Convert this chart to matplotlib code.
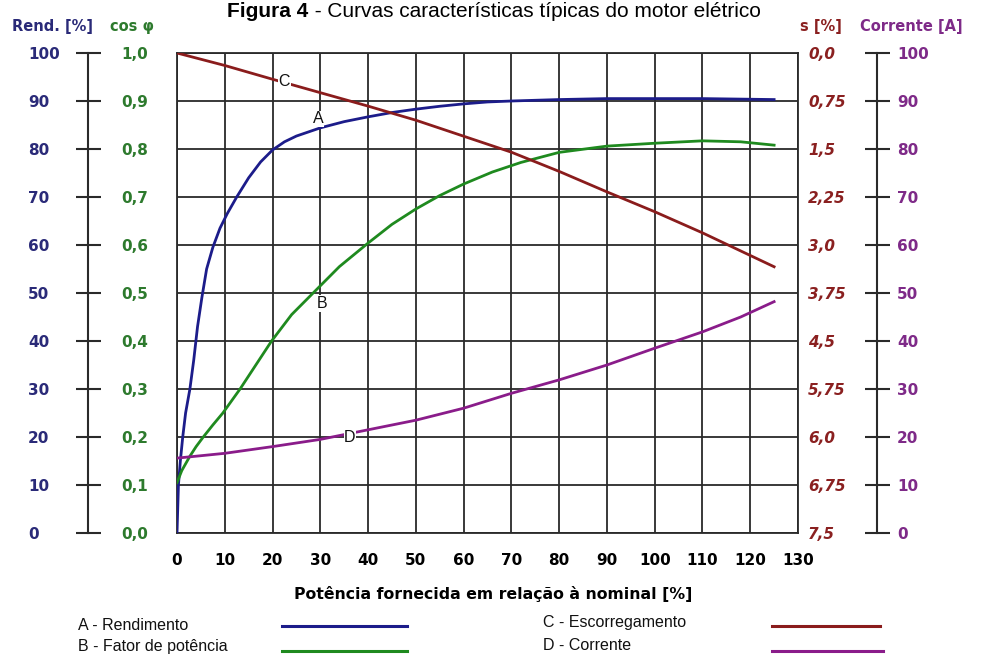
import matplotlib
matplotlib.use("Agg")
import matplotlib.pyplot as plt
from matplotlib.lines import Line2D

W, H = 987, 655

# power delivered relative to nominal (%)
x_ticks = list(range(0, 131, 10))

# A - efficiency (%)
rend_x = [0, 0.3, 0.7, 1.2, 1.8, 2.7, 3.5, 4.3, 5.2, 6.2, 7.5, 9, 10.5, 12.5, 15, 17.5, 20,
          22.5, 25, 30, 35, 40, 45, 50, 55, 60, 65, 70, 80, 90, 100, 110, 125]
rend_y = [0, 10, 15, 20, 25, 30, 36, 43, 49, 55, 59.5, 63.5, 66.5, 70, 74, 77.3, 79.8,
          81.5, 82.7, 84.4, 85.7, 86.7, 87.6, 88.3, 88.9, 89.4, 89.8, 90, 90.3, 90.5, 90.5, 90.5, 90.3]

# B - power factor (cos phi)
cos_x = [0, 1, 2.7, 4, 5.5, 7.5, 9.6, 13.2, 16.5, 19.8, 24, 28.5, 34, 40, 45, 50, 55, 60,
         66, 72, 80, 90, 100, 110, 118, 125]
cos_y = [0.105, 0.13, 0.16, 0.18, 0.20, 0.225, 0.25, 0.30, 0.35, 0.40, 0.455, 0.50, 0.555,
         0.604, 0.643, 0.675, 0.703, 0.727, 0.752, 0.772, 0.793, 0.806, 0.812, 0.817, 0.815, 0.808]

# C - slip (%)
slip_x = [0, 10, 20, 30, 40, 50, 60, 70, 80, 90, 100, 110, 125]
slip_y = [0, 0.195, 0.41, 0.62, 0.83, 1.05, 1.3, 1.55, 1.85, 2.17, 2.48, 2.81, 3.34]

# D - current (A)
cur_x = [0, 10, 20, 30, 40, 50, 60, 70, 80, 90, 100, 110, 118, 125]
cur_y = [15.6, 16.6, 18, 19.5, 21.5, 23.5, 26, 29.1, 31.9, 35, 38.5, 41.9, 45, 48.2]

rend_ticks = list(range(0, 101, 10))
cos_ticks = [i / 10 for i in range(11)]
cos_labels = ["0,0", "0,1", "0,2", "0,3", "0,4", "0,5", "0,6", "0,7", "0,8", "0,9", "1,0"]
slip_ticks = [i * 0.75 for i in range(11)]
slip_labels = ["0,0", "0,75", "1,5", "2,25", "3,0", "3,75", "4,5", "5,75", "6,0", "6,75", "7,5"]
cur_ticks = list(range(0, 101, 10))

BLUE = "#1c1c8a"
GREEN = "#1f8a1f"
RED = "#8a1c1c"
PURPLE = "#8a1c8a"
NAVY_TXT = "#2a2a78"
GREEN_TXT = "#2d7a2d"
RED_TXT = "#8a2020"
PURPLE_TXT = "#7e2a88"

TICK_FONT = {"family": "DejaVu Sans", "weight": "bold", "size": 11}
PT = 72 / 100  # points per pixel at dpi 100


def fx(px):
    return px / W


def fy(py):
    return 1 - py / H


fig = plt.figure(figsize=(W / 100, H / 100), dpi=100)
left, right, top, bottom = 177, 798, 53, 533
ax = fig.add_axes([fx(left), fy(bottom), fx(right - left), (bottom - top) / H])
ax.set_xlim(0, 130)
ax.set_ylim(0, 100)
ax.set_xticks(x_ticks)
ax.set_xticklabels([str(v) for v in x_ticks], fontdict=TICK_FONT)
ax.set_yticks(rend_ticks)
ax.set_yticklabels([])
ax.tick_params(axis="both", length=0)
ax.tick_params(axis="x", pad=20 * PT)
ax.grid(True, color="#2a2a2a", linewidth=1.3)
ax.set_axisbelow(True)
for s in ax.spines.values():
    s.set_color("#2a2a2a")
    s.set_linewidth(1.3)


def scale_axis(side, offset_px, ylim, ticks, labels, color, tick_len_px, pad_px,
               ha, spine=True):
    a = ax.twinx()
    a.set_ylim(*ylim)
    for s in a.spines.values():
        s.set_visible(False)
    sp = a.spines[side]
    sp.set_visible(spine)
    sp.set_position(("outward", offset_px * PT))
    sp.set_color("#2a2a2a")
    sp.set_linewidth(1.5)
    if side == "left":
        a.yaxis.tick_left()
    else:
        a.yaxis.tick_right()
    a.set_yticks(ticks)
    a.set_yticklabels(labels, fontdict=TICK_FONT)
    a.tick_params(axis="y", direction="inout", length=tick_len_px * PT, width=1.5,
                  color="#2a2a2a", labelcolor=color, pad=pad_px * PT)
    for t in a.get_yticklabels():
        t.set_ha(ha)
    return a


scale_axis("left", left - 88, (0, 100), rend_ticks, [str(v) for v in rend_ticks],
           NAVY_TXT, 25, 47.5, "left")
ax_cos = scale_axis("left", left - 121, (0, 1), cos_ticks, cos_labels,
                    GREEN_TXT, 0, 0, "left", spine=False)
ax_slip = scale_axis("right", 808 - right, (7.5, 0), slip_ticks, slip_labels,
                     RED_TXT, 0, 0, "left", spine=False)
ax_cur = scale_axis("right", 877 - right, (0, 100), cur_ticks, [str(v) for v in cur_ticks],
                    PURPLE_TXT, 25, 7.5, "left")
for t in ax_slip.get_yticklabels():
    t.set_style("italic")

lw = 2.0
ax.plot(rend_x, rend_y, color=BLUE, lw=lw, zorder=3)
ax_cos.plot(cos_x, cos_y, color=GREEN, lw=lw, zorder=3)
ax_slip.plot(slip_x, slip_y, color=RED, lw=lw, zorder=3)
ax_cur.plot(cur_x, cur_y, color=PURPLE, lw=lw, zorder=3)

box = dict(facecolor="white", edgecolor="none", pad=0.5)
lab_font = dict(family="Liberation Sans", size=11.5, color="#111111",
                ha="center", va="center", bbox=box, zorder=5)
ax_cur.text(29.5, 86.3, "A", **lab_font)
ax_cur.text(30.3, 47.8, "B", **lab_font)
ax_cur.text(22.5, 94.1, "C", **lab_font)
ax_cur.text(36.2, 20.0, "D", **lab_font)

# axis headers
hdr = dict(family="DejaVu Sans", weight="bold", size=10.5, va="center", ha="left")
fig.text(fx(12), fy(26), "Rend. [%]", color=NAVY_TXT, **hdr)
fig.text(fx(110), fy(26), "cos φ", color=GREEN_TXT, **hdr)
fig.text(fx(800), fy(26), "s [%]", color=RED_TXT, **hdr)
fig.text(fx(860), fy(26), "Corrente [A]", color=PURPLE_TXT, **hdr)

fig.text(fx(493), fy(594), "Potência fornecida em relação à nominal [%]",
         family="DejaVu Sans", weight="bold", size=11.3, ha="center", va="center")

# title
t1 = fig.text(0, fy(17), "Figura 4", family="Liberation Sans", weight="bold",
              size=15, ha="left", va="baseline")
t2 = fig.text(0, fy(17), " - Curvas características típicas do motor elétrico",
              family="Liberation Sans", size=15, ha="left", va="baseline")
r = fig.canvas.get_renderer()
w1 = t1.get_window_extent(r).width
w2 = t2.get_window_extent(r).width
x0 = 494 - (w1 + w2) / 2
t1.set_x(fx(x0))
t2.set_x(fx(x0 + w1))

# legend rows
leg_font = dict(family="Liberation Sans", size=11.5, ha="left", va="center", color="#111111")
legend_rows = [
    ("A - Rendimento", BLUE, 78, 625, 282, 407, 626),
    ("B - Fator de potência", GREEN, 78, 646, 282, 407, 651),
    ("C - Escorregamento", RED, 543, 622, 772, 880, 626),
    ("D - Corrente", PURPLE, 543, 645, 772, 883, 651),
]
for text, col, tx, ty, lx0, lx1, ly in legend_rows:
    fig.text(fx(tx), fy(ty), text, **leg_font)
    fig.add_artist(Line2D([fx(lx0), fx(lx1)], [fy(ly), fy(ly)], color=col, lw=2.2,
                          transform=fig.transFigure))

fig.savefig("out.png", dpi=100)
